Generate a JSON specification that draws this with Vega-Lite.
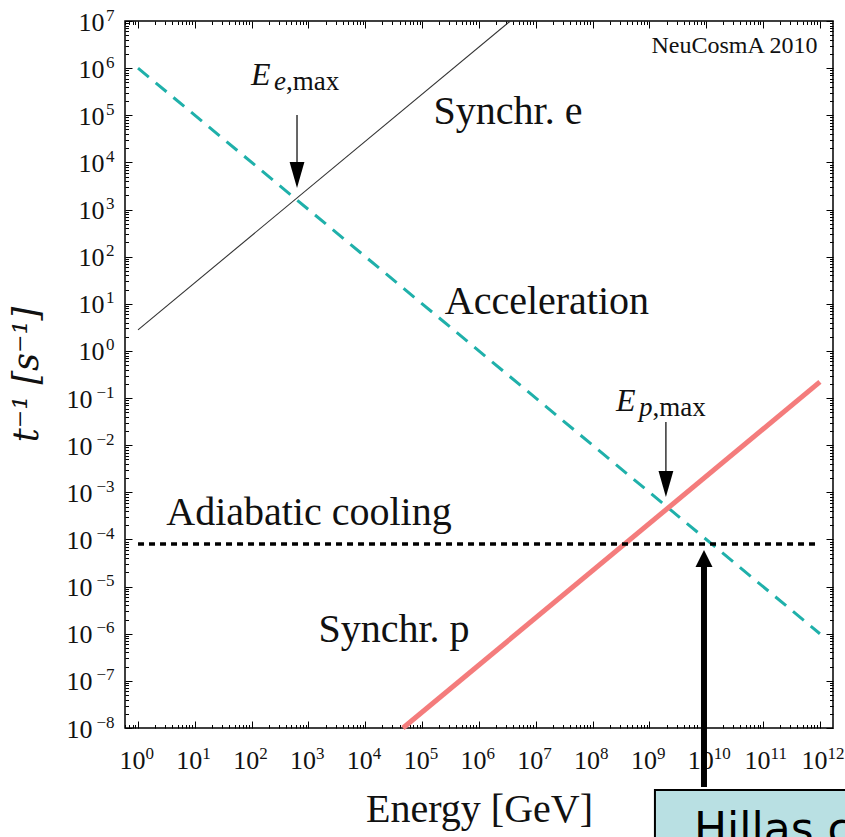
{
  "$schema": "https://vega.github.io/schema/vega-lite/v6.json",
  "width": 708,
  "height": 707,
  "autosize": {"type": "none"},
  "padding": {"left": 125, "top": 21, "right": 12, "bottom": 109},
  "background": "white",
  "config": {
    "view": {"stroke": "#000", "strokeWidth": 1.5},
    "font": "Liberation Serif",
    "axis": {
      "domain": false,
      "grid": false,
      "tickColor": "#000",
      "tickWidth": 1,
      "labelColor": "#111",
      "labelFont": "Liberation Serif",
      "labelFontSize": 26,
      "labelOverlap": false,
      "labelFlush": false,
      "titleFont": "Liberation Serif",
      "titleFontWeight": "normal",
      "titleColor": "#111"
    }
  },
  "datasets": {
    "acceleration": [{"E": 1, "rate": 1e6}, {"E": 1e12, "rate": 1e-6}],
    "synchr_e": [{"E": 1, "rate": 2.8}, {"E": 3.57e6, "rate": 1e7}],
    "synchr_p": [{"E": 4.6e4, "rate": 1e-8}, {"E": 1e12, "rate": 0.22}],
    "adiabatic": [{"E": 1, "rate": 8e-5}, {"E": 1e12, "rate": 8e-5}],
    "thin_arrows": [
      {"E": 628, "top": 1.01e5, "tip": 2870, "shaft_end": 5400},
      {"E": 1.95e9, "top": 0.0311, "tip": 7.96e-4, "shaft_end": 1.5e-3}
    ],
    "hillas_arrow": [{"E": 9.12e9, "bottom": 5.6e-10, "tip": 5.98e-5, "shaft_end": 2.7e-5}],
    "curve_labels": [
      {"text": "Synchr. e", "E": 3.24e6, "rate": 6.55e4},
      {"text": "Acceleration", "E": 1.57e7, "rate": 6.08},
      {"text": "Adiabatic cooling", "E": 1.02e3, "rate": 2.03e-4},
      {"text": "Synchr. p", "E": 3.2e4, "rate": 6.68e-7}
    ],
    "emax_main": [
      {"text": "E", "E": 97.3, "rate": 4.4e5},
      {"text": "E", "E": 2.58e8, "rate": 0.0532}
    ],
    "emax_sub": [
      {"text": "e", "E": 247, "rate": 3.44e5},
      {"text": "p", "E": 6.55e8, "rate": 0.0417}
    ],
    "emax_tail": [
      {"text": ",max", "E": 402, "rate": 3.44e5},
      {"text": ",max", "E": 1.13e9, "rate": 0.0417}
    ],
    "credit": [{"text": "NeuCosmA 2010", "E": 3.13e10, "rate": 2.1e6}],
    "hillas_box": [{"E": 1.25e9, "E2": 1e15, "rate": 4.83e-10, "rate2": 1e-12, "text": "Hillas criterion", "textE": 6.08e9, "textRate": 3.46e-11}]
  },
  "layer": [
    {
      "data": {"name": "acceleration"},
      "mark": {"type": "line", "color": "#1fb0aa", "strokeWidth": 3, "strokeDash": [14, 9]},
      "encoding": {
        "x": {
          "field": "E", "type": "quantitative",
          "scale": {"type": "log", "domain": [0.59, 1.7e12], "nice": false},
          "axis": {
            "orient": "bottom",
            "values": [0.6, 0.7, 0.8, 0.9,
              1, 2, 3, 4, 5, 6, 7, 8, 9,
              1e1, 2e1, 3e1, 4e1, 5e1, 6e1, 7e1, 8e1, 9e1,
              1e2, 2e2, 3e2, 4e2, 5e2, 6e2, 7e2, 8e2, 9e2,
              1e3, 2e3, 3e3, 4e3, 5e3, 6e3, 7e3, 8e3, 9e3,
              1e4, 2e4, 3e4, 4e4, 5e4, 6e4, 7e4, 8e4, 9e4,
              1e5, 2e5, 3e5, 4e5, 5e5, 6e5, 7e5, 8e5, 9e5,
              1e6, 2e6, 3e6, 4e6, 5e6, 6e6, 7e6, 8e6, 9e6,
              1e7, 2e7, 3e7, 4e7, 5e7, 6e7, 7e7, 8e7, 9e7,
              1e8, 2e8, 3e8, 4e8, 5e8, 6e8, 7e8, 8e8, 9e8,
              1e9, 2e9, 3e9, 4e9, 5e9, 6e9, 7e9, 8e9, 9e9,
              1e10, 2e10, 3e10, 4e10, 5e10, 6e10, 7e10, 8e10, 9e10,
              1e11, 2e11, 3e11, 4e11, 5e11, 6e11, 7e11, 8e11, 9e11,
              1e12],
            "tickSize": {"condition": {"test": "abs(log(datum.value)/LN10 - round(log(datum.value)/LN10)) < 0.001", "value": -7}, "value": -3.5},
            "labels": false,
            "title": "Energy [GeV]",
            "titleFontSize": 40,
            "titleBaseline": "alphabetic",
            "titleAlign": "center",
            "titleX": 354,
            "titleY": 93
          }
        },
        "y": {
          "field": "rate", "type": "quantitative",
          "scale": {"type": "log", "domain": [1e-8, 1e7], "nice": false},
          "axis": {
            "orient": "left",
            "values": [
              1e-8, 2e-8, 3e-8, 4e-8, 5e-8, 6e-8, 7e-8, 8e-8, 9e-8,
              1e-7, 2e-7, 3e-7, 4e-7, 5e-7, 6e-7, 7e-7, 8e-7, 9e-7,
              1e-6, 2e-6, 3e-6, 4e-6, 5e-6, 6e-6, 7e-6, 8e-6, 9e-6,
              1e-5, 2e-5, 3e-5, 4e-5, 5e-5, 6e-5, 7e-5, 8e-5, 9e-5,
              1e-4, 2e-4, 3e-4, 4e-4, 5e-4, 6e-4, 7e-4, 8e-4, 9e-4,
              1e-3, 2e-3, 3e-3, 4e-3, 5e-3, 6e-3, 7e-3, 8e-3, 9e-3,
              1e-2, 2e-2, 3e-2, 4e-2, 5e-2, 6e-2, 7e-2, 8e-2, 9e-2,
              1e-1, 2e-1, 3e-1, 4e-1, 5e-1, 6e-1, 7e-1, 8e-1, 9e-1,
              1, 2, 3, 4, 5, 6, 7, 8, 9,
              1e1, 2e1, 3e1, 4e1, 5e1, 6e1, 7e1, 8e1, 9e1,
              1e2, 2e2, 3e2, 4e2, 5e2, 6e2, 7e2, 8e2, 9e2,
              1e3, 2e3, 3e3, 4e3, 5e3, 6e3, 7e3, 8e3, 9e3,
              1e4, 2e4, 3e4, 4e4, 5e4, 6e4, 7e4, 8e4, 9e4,
              1e5, 2e5, 3e5, 4e5, 5e5, 6e5, 7e5, 8e5, 9e5,
              1e6, 2e6, 3e6, 4e6, 5e6, 6e6, 7e6, 8e6, 9e6,
              1e7],
            "tickSize": {"condition": {"test": "abs(log(datum.value)/LN10 - round(log(datum.value)/LN10)) < 0.001", "value": -7}, "value": -3.5},
            "labels": false,
            "title": "t⁻¹ [s⁻¹]",
            "titleFont": "DejaVu Serif",
            "titleFontSize": 35,
            "titleFontStyle": "italic",
            "titleAngle": -90,
            "titleAlign": "center",
            "titleBaseline": "alphabetic",
            "titleX": -88,
            "titleY": 353
          }
        }
      }
    },
    {
      "data": {"name": "synchr_e"},
      "mark": {"type": "line", "color": "#333", "strokeWidth": 1.1},
      "encoding": {
        "x": {
          "field": "E", "type": "quantitative",
          "scale": {"type": "log", "domain": [0.59, 1.7e12], "nice": false},
          "axis": {
            "orient": "top",
            "values": [0.6, 0.7, 0.8, 0.9,
              1, 2, 3, 4, 5, 6, 7, 8, 9,
              1e1, 2e1, 3e1, 4e1, 5e1, 6e1, 7e1, 8e1, 9e1,
              1e2, 2e2, 3e2, 4e2, 5e2, 6e2, 7e2, 8e2, 9e2,
              1e3, 2e3, 3e3, 4e3, 5e3, 6e3, 7e3, 8e3, 9e3,
              1e4, 2e4, 3e4, 4e4, 5e4, 6e4, 7e4, 8e4, 9e4,
              1e5, 2e5, 3e5, 4e5, 5e5, 6e5, 7e5, 8e5, 9e5,
              1e6, 2e6, 3e6, 4e6, 5e6, 6e6, 7e6, 8e6, 9e6,
              1e7, 2e7, 3e7, 4e7, 5e7, 6e7, 7e7, 8e7, 9e7,
              1e8, 2e8, 3e8, 4e8, 5e8, 6e8, 7e8, 8e8, 9e8,
              1e9, 2e9, 3e9, 4e9, 5e9, 6e9, 7e9, 8e9, 9e9,
              1e10, 2e10, 3e10, 4e10, 5e10, 6e10, 7e10, 8e10, 9e10,
              1e11, 2e11, 3e11, 4e11, 5e11, 6e11, 7e11, 8e11, 9e11,
              1e12],
            "tickSize": {"condition": {"test": "abs(log(datum.value)/LN10 - round(log(datum.value)/LN10)) < 0.001", "value": -7}, "value": -3.5},
            "labels": false,
            "title": null
          }
        },
        "y": {
          "field": "rate", "type": "quantitative",
          "scale": {"type": "log", "domain": [1e-8, 1e7], "nice": false},
          "axis": {
            "orient": "right",
            "values": [
              1e-8, 2e-8, 3e-8, 4e-8, 5e-8, 6e-8, 7e-8, 8e-8, 9e-8,
              1e-7, 2e-7, 3e-7, 4e-7, 5e-7, 6e-7, 7e-7, 8e-7, 9e-7,
              1e-6, 2e-6, 3e-6, 4e-6, 5e-6, 6e-6, 7e-6, 8e-6, 9e-6,
              1e-5, 2e-5, 3e-5, 4e-5, 5e-5, 6e-5, 7e-5, 8e-5, 9e-5,
              1e-4, 2e-4, 3e-4, 4e-4, 5e-4, 6e-4, 7e-4, 8e-4, 9e-4,
              1e-3, 2e-3, 3e-3, 4e-3, 5e-3, 6e-3, 7e-3, 8e-3, 9e-3,
              1e-2, 2e-2, 3e-2, 4e-2, 5e-2, 6e-2, 7e-2, 8e-2, 9e-2,
              1e-1, 2e-1, 3e-1, 4e-1, 5e-1, 6e-1, 7e-1, 8e-1, 9e-1,
              1, 2, 3, 4, 5, 6, 7, 8, 9,
              1e1, 2e1, 3e1, 4e1, 5e1, 6e1, 7e1, 8e1, 9e1,
              1e2, 2e2, 3e2, 4e2, 5e2, 6e2, 7e2, 8e2, 9e2,
              1e3, 2e3, 3e3, 4e3, 5e3, 6e3, 7e3, 8e3, 9e3,
              1e4, 2e4, 3e4, 4e4, 5e4, 6e4, 7e4, 8e4, 9e4,
              1e5, 2e5, 3e5, 4e5, 5e5, 6e5, 7e5, 8e5, 9e5,
              1e6, 2e6, 3e6, 4e6, 5e6, 6e6, 7e6, 8e6, 9e6,
              1e7],
            "tickSize": {"condition": {"test": "abs(log(datum.value)/LN10 - round(log(datum.value)/LN10)) < 0.001", "value": -7}, "value": -3.5},
            "labels": false,
            "title": null
          }
        }
      }
    },
    {
      "data": {"name": "synchr_p"},
      "mark": {"type": "line", "color": "#f47c7c", "strokeWidth": 5},
      "encoding": {
        "x": {
          "field": "E", "type": "quantitative",
          "scale": {"type": "log", "domain": [0.59, 1.7e12], "nice": false},
          "axis": {
            "orient": "bottom",
            "values": [1, 1e1, 1e2, 1e3, 1e4, 1e5, 1e6, 1e7, 1e8, 1e9, 1e10, 1e11, 1e12],
            "ticks": false,
            "tickSize": 0,
            "labelExpr": "'10'",
            "labelAlign": "right",
            "labelBaseline": "alphabetic",
            "labelOffset": 7,
            "labelPadding": 40,
            "labelFontSize": 26,
            "title": null
          }
        },
        "y": {
          "field": "rate", "type": "quantitative",
          "scale": {"type": "log", "domain": [1e-8, 1e7], "nice": false},
          "axis": {
            "orient": "left",
            "values": [1e-8, 1e-7, 1e-6, 1e-5, 1e-4, 1e-3, 1e-2, 1e-1, 1, 1e1, 1e2, 1e3, 1e4, 1e5, 1e6, 1e7],
            "ticks": false,
            "tickSize": 0,
            "labelExpr": "'10'",
            "labelAlign": "right",
            "labelBaseline": "alphabetic",
            "labelOffset": 9,
            "labelPadding": {"condition": {"test": "datum.value < 0.5", "value": 33}, "value": 21},
            "labelFontSize": 26,
            "title": null
          }
        }
      }
    },
    {
      "data": {"name": "adiabatic"},
      "mark": {"type": "line", "color": "#000", "strokeWidth": 3.5, "strokeDash": [6, 5]},
      "encoding": {
        "x": {
          "field": "E", "type": "quantitative",
          "scale": {"type": "log", "domain": [0.59, 1.7e12], "nice": false},
          "axis": {
            "orient": "bottom",
            "values": [1, 1e1, 1e2, 1e3, 1e4, 1e5, 1e6, 1e7, 1e8, 1e9, 1e10, 1e11, 1e12],
            "ticks": false,
            "tickSize": 0,
            "labelExpr": "'' + round(log(datum.value)/LN10)",
            "labelAlign": "left",
            "labelBaseline": "alphabetic",
            "labelOffset": 7,
            "labelPadding": 30,
            "labelFontSize": 17,
            "title": null
          }
        },
        "y": {
          "field": "rate", "type": "quantitative",
          "scale": {"type": "log", "domain": [1e-8, 1e7], "nice": false},
          "axis": {
            "orient": "left",
            "values": [1e-8, 1e-7, 1e-6, 1e-5, 1e-4, 1e-3, 1e-2, 1e-1, 1, 1e1, 1e2, 1e3, 1e4, 1e5, 1e6, 1e7],
            "ticks": false,
            "tickSize": 0,
            "labelExpr": "round(log(datum.value)/LN10) < 0 ? '−' + (-round(log(datum.value)/LN10)) : '' + round(log(datum.value)/LN10)",
            "labelAlign": "right",
            "labelBaseline": "alphabetic",
            "labelOffset": -1,
            "labelPadding": 11,
            "labelFontSize": 17,
            "title": null
          }
        }
      }
    },
    {
      "data": {"name": "thin_arrows"},
      "mark": {"type": "rule", "color": "#000", "strokeWidth": 1.2},
      "encoding": {
        "x": {"field": "E", "type": "quantitative", "scale": {"type": "log", "domain": [0.59, 1.7e12], "nice": false}, "axis": null},
        "y": {"field": "top", "type": "quantitative", "scale": {"type": "log", "domain": [1e-8, 1e7], "nice": false}, "axis": null},
        "y2": {"field": "shaft_end"}
      }
    },
    {
      "data": {"name": "thin_arrows"},
      "mark": {"type": "point", "shape": "M0,0L-0.57,-2L0.57,-2Z", "filled": true, "color": "#000", "opacity": 1, "size": 676, "strokeWidth": 0},
      "encoding": {
        "x": {"field": "E", "type": "quantitative", "scale": {"type": "log", "domain": [0.59, 1.7e12], "nice": false}, "axis": null},
        "y": {"field": "tip", "type": "quantitative", "scale": {"type": "log", "domain": [1e-8, 1e7], "nice": false}, "axis": null}
      }
    },
    {
      "data": {"name": "hillas_box"},
      "mark": {"type": "rect", "fill": "#b9e0e3", "stroke": "#000", "strokeWidth": 2},
      "encoding": {
        "x": {"field": "E", "type": "quantitative", "scale": {"type": "log", "domain": [0.59, 1.7e12], "nice": false}, "axis": null},
        "x2": {"field": "E2"},
        "y": {"field": "rate", "type": "quantitative", "scale": {"type": "log", "domain": [1e-8, 1e7], "nice": false}, "axis": null},
        "y2": {"field": "rate2"}
      }
    },
    {
      "data": {"name": "hillas_box"},
      "mark": {"type": "text", "font": "DejaVu Sans", "fontSize": 44, "align": "left", "baseline": "alphabetic", "color": "#000"},
      "encoding": {
        "x": {"field": "textE", "type": "quantitative", "scale": {"type": "log", "domain": [0.59, 1.7e12], "nice": false}, "axis": null},
        "y": {"field": "textRate", "type": "quantitative", "scale": {"type": "log", "domain": [1e-8, 1e7], "nice": false}, "axis": null},
        "text": {"field": "text"}
      }
    },
    {
      "data": {"name": "hillas_arrow"},
      "mark": {"type": "rule", "color": "#000", "strokeWidth": 6},
      "encoding": {
        "x": {"field": "E", "type": "quantitative", "scale": {"type": "log", "domain": [0.59, 1.7e12], "nice": false}, "axis": null},
        "y": {"field": "bottom", "type": "quantitative", "scale": {"type": "log", "domain": [1e-8, 1e7], "nice": false}, "axis": null},
        "y2": {"field": "shaft_end"}
      }
    },
    {
      "data": {"name": "hillas_arrow"},
      "mark": {"type": "point", "shape": "M0,0L-1,2L1,2Z", "filled": true, "color": "#000", "opacity": 1, "size": 289, "strokeWidth": 0},
      "encoding": {
        "x": {"field": "E", "type": "quantitative", "scale": {"type": "log", "domain": [0.59, 1.7e12], "nice": false}, "axis": null},
        "y": {"field": "tip", "type": "quantitative", "scale": {"type": "log", "domain": [1e-8, 1e7], "nice": false}, "axis": null}
      }
    },
    {
      "data": {"name": "curve_labels"},
      "mark": {"type": "text", "font": "Liberation Serif", "fontSize": 40, "align": "center", "baseline": "alphabetic", "color": "#111"},
      "encoding": {
        "x": {"field": "E", "type": "quantitative", "scale": {"type": "log", "domain": [0.59, 1.7e12], "nice": false}, "axis": null},
        "y": {"field": "rate", "type": "quantitative", "scale": {"type": "log", "domain": [1e-8, 1e7], "nice": false}, "axis": null},
        "text": {"field": "text"}
      }
    },
    {
      "data": {"name": "emax_main"},
      "mark": {"type": "text", "font": "Liberation Serif", "fontSize": 32, "fontStyle": "italic", "align": "left", "baseline": "alphabetic", "color": "#111"},
      "encoding": {
        "x": {"field": "E", "type": "quantitative", "scale": {"type": "log", "domain": [0.59, 1.7e12], "nice": false}, "axis": null},
        "y": {"field": "rate", "type": "quantitative", "scale": {"type": "log", "domain": [1e-8, 1e7], "nice": false}, "axis": null},
        "text": {"field": "text"}
      }
    },
    {
      "data": {"name": "emax_sub"},
      "mark": {"type": "text", "font": "Liberation Serif", "fontSize": 27, "fontStyle": "italic", "align": "left", "baseline": "alphabetic", "color": "#111"},
      "encoding": {
        "x": {"field": "E", "type": "quantitative", "scale": {"type": "log", "domain": [0.59, 1.7e12], "nice": false}, "axis": null},
        "y": {"field": "rate", "type": "quantitative", "scale": {"type": "log", "domain": [1e-8, 1e7], "nice": false}, "axis": null},
        "text": {"field": "text"}
      }
    },
    {
      "data": {"name": "emax_tail"},
      "mark": {"type": "text", "font": "Liberation Serif", "fontSize": 27, "align": "left", "baseline": "alphabetic", "color": "#111"},
      "encoding": {
        "x": {"field": "E", "type": "quantitative", "scale": {"type": "log", "domain": [0.59, 1.7e12], "nice": false}, "axis": null},
        "y": {"field": "rate", "type": "quantitative", "scale": {"type": "log", "domain": [1e-8, 1e7], "nice": false}, "axis": null},
        "text": {"field": "text"}
      }
    },
    {
      "data": {"name": "credit"},
      "mark": {"type": "text", "font": "Liberation Serif", "fontSize": 24, "align": "center", "baseline": "alphabetic", "color": "#111"},
      "encoding": {
        "x": {"field": "E", "type": "quantitative", "scale": {"type": "log", "domain": [0.59, 1.7e12], "nice": false}, "axis": null},
        "y": {"field": "rate", "type": "quantitative", "scale": {"type": "log", "domain": [1e-8, 1e7], "nice": false}, "axis": null},
        "text": {"field": "text"}
      }
    }
  ],
  "resolve": {"axis": {"x": "independent", "y": "independent"}}
}
